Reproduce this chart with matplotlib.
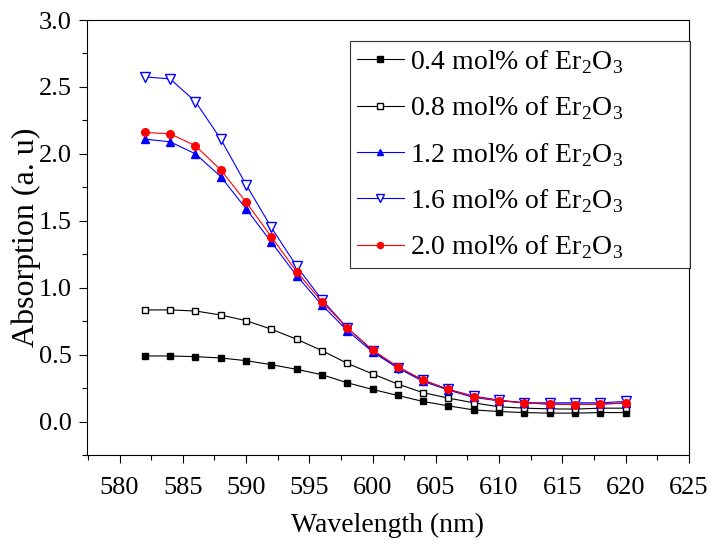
import numpy as np
import matplotlib.pyplot as plt
from matplotlib.ticker import MultipleLocator

plt.rcParams['font.family'] = 'Liberation Serif'
plt.rcParams['mathtext.fontset'] = 'custom'
plt.rcParams['mathtext.rm'] = 'Liberation Serif'

# wavelength grid (nm)
wavelength = [582, 584, 586, 588, 590, 592, 594, 596, 598, 600,
              602, 604, 606, 608, 610, 612, 614, 616, 618, 620]

# absorption for each Er2O3 concentration
abs_04 = [0.49, 0.49, 0.485, 0.475, 0.455, 0.425, 0.39, 0.35, 0.29, 0.24,
          0.195, 0.15, 0.117, 0.087, 0.075, 0.067, 0.063, 0.063, 0.067, 0.067]
abs_08 = [0.834, 0.834, 0.826, 0.796, 0.754, 0.69, 0.615, 0.53, 0.435, 0.356,
          0.28, 0.216, 0.175, 0.14, 0.11, 0.10, 0.095, 0.093, 0.10, 0.10]
abs_12 = [2.11, 2.09, 2.0, 1.83, 1.59, 1.34, 1.09, 0.87, 0.68, 0.52,
          0.40, 0.30, 0.235, 0.18, 0.155, 0.14, 0.13, 0.13, 0.13, 0.14]
abs_16 = [2.575, 2.56, 2.39, 2.11, 1.77, 1.45, 1.16, 0.91, 0.70, 0.53,
          0.40, 0.31, 0.24, 0.19, 0.16, 0.14, 0.14, 0.14, 0.14, 0.15]
abs_20 = [2.16, 2.15, 2.06, 1.88, 1.64, 1.38, 1.12, 0.895, 0.70, 0.535,
          0.41, 0.31, 0.24, 0.186, 0.157, 0.14, 0.13, 0.127, 0.13, 0.137]

sub = r'Er$_\mathregular{2}$O$_\mathregular{3}$'
labels = ['0.4 mol% of ' + sub, '0.8 mol% of ' + sub, '1.2 mol% of ' + sub,
          '1.6 mol% of ' + sub, '2.0 mol% of ' + sub]

fig = plt.figure(figsize=(7.25, 5.5), dpi=100)
ax = fig.add_axes([0.1196, 0.1727, 0.8304, 0.7909])

ax.plot(wavelength, abs_04, color='black', lw=0.8, marker='s', ms=5,
        mfc='black', mec='black', label=labels[0])
ax.plot(wavelength, abs_08, color='black', lw=0.8, marker='s', ms=5,
        mfc='white', mec='black', label=labels[1])
ax.plot(wavelength, abs_12, color='blue', lw=0.8, marker='^', ms=6,
        mfc='blue', mec='blue', label=labels[2])
ax.plot(wavelength, abs_16, color='blue', lw=0.8, marker='v', ms=6.5,
        mfc='white', mec='blue', label=labels[3])
ax.plot(wavelength, abs_20, color='red', lw=0.8, marker='o', ms=5.5,
        mfc='red', mec='red', label=labels[4])

ax.set_xlim(577.4, 625)
ax.set_ylim(-0.25, 3.0)
ax.xaxis.set_minor_locator(MultipleLocator(2.5))
ax.yaxis.set_minor_locator(MultipleLocator(0.25))
ax.set_xticks(np.arange(580, 626, 5))
ax.set_yticks(np.arange(0, 3.01, 0.5))
ax.yaxis.set_major_formatter(plt.FormatStrFormatter('%.1f'))
ax.tick_params(which='both', direction='out', top=False, right=False, labelsize=19)
ax.tick_params(which='major', length=6, width=0.8)
ax.tick_params(which='minor', length=3.5, width=0.8)
ax.tick_params(axis='x', pad=10)
ax.tick_params(axis='y', pad=5)

ax.set_xlabel('Wavelength (nm)', fontsize=20, labelpad=10)
ax.set_ylabel('Absorption (a. u)', fontsize=23, labelpad=-2)

leg = ax.legend(loc='upper left', bbox_to_anchor=(0.437, 0.43, 0.565, 0.5217),
                mode='expand', fontsize=20, frameon=True, fancybox=False,
                edgecolor='black', handlelength=1.7, handletextpad=0.2,
                borderaxespad=0, borderpad=0.25, labelspacing=0.67, markerscale=0.8)
leg.get_frame().set_linewidth(0.8)

plt.savefig('out.png', dpi=100)
